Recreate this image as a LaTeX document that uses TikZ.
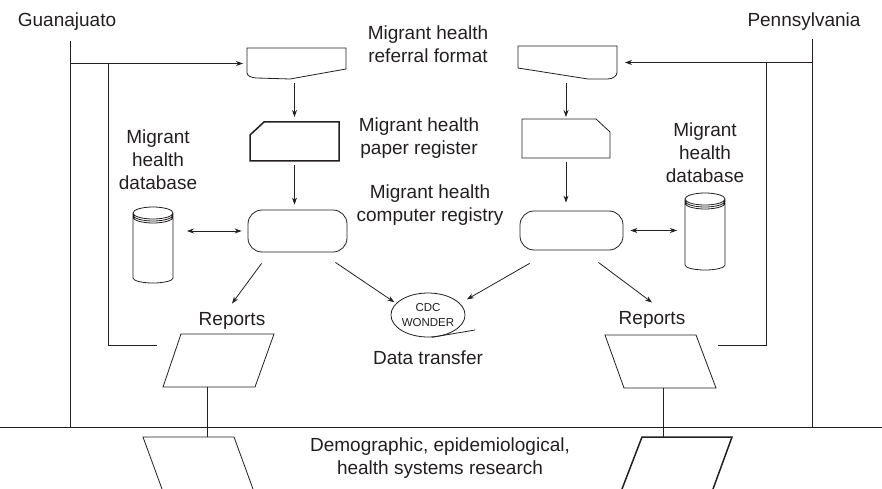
\documentclass[tikz,border=0pt]{standalone}
\usepackage{fontspec}
\setmainfont{Liberation Sans}
\usetikzlibrary{arrows.meta,shapes.geometric}
\definecolor{ink}{RGB}{35,31,32}

\begin{document}
\begin{tikzpicture}[x=1pt, y=-1pt, line width=0.8pt, draw=ink, text=ink,
  >={Stealth[length=7pt,width=5pt]},
  lbl/.style={font=\fontsize{19}{23}\selectfont, align=center, inner sep=0pt},
  tiny/.style={font=\fontsize{11.5}{15}\selectfont, align=center},
  hold/.style={inner sep=0pt, outer sep=0pt},
  comp/.style={draw, rounded corners=14pt, inner sep=0pt},
  thick line/.style={line width=1.5pt}]
\useasboundingbox (0,0) rectangle (882,489);

% place labels
\node[lbl, anchor=base] (gto) at (67,27) {Guanajuato};
\node[lbl, anchor=base] (pa) at (804,27) {Pennsylvania};
\node[lbl] (reftxt) at (428,44.5) {Migrant health\\referral format};
\node[lbl] (papertxt) at (419,138.5) {Migrant health\\paper register};
\node[lbl] (comptxt) at (430,205) {Migrant health\\computer registry};
\node[lbl] (ldbtxt) at (158,160) {Migrant\\health\\database};
\node[lbl] (rdbtxt) at (705,153) {Migrant\\health\\database};
\node[lbl, anchor=base] (lrept) at (232,325) {Reports};
\node[lbl, anchor=base] (rrept) at (652,324) {Reports};
\node[lbl, anchor=base] (datatxt) at (428,364) {Data transfer};
\node[lbl] (restxt) at (440,458.5) {Demographic, epidemiological,\\health systems research};

% flowchart boxes
\node[hold, minimum width=99, minimum height=31] (lref) at (296.5,63.5) {};
\node[hold, minimum width=99, minimum height=33] (rref) at (567.5,62.5) {};
\node[hold, minimum width=89, minimum height=39] (lpaper) at (294.5,141.5) {};
\node[hold, minimum width=88, minimum height=39] (rpaper) at (566,138.5) {};
\node[comp, minimum width=99, minimum height=42] (lcomp) at (297.5,231) {};
\node[comp, minimum width=103, minimum height=39] (rcomp) at (571.5,230.5) {};
\node[hold, minimum width=40, minimum height=75] (ldb) at (153,244.5) {};
\node[hold, minimum width=40, minimum height=77] (rdb) at (705,231.5) {};
\node[draw, ellipse, tiny, inner sep=0pt, minimum width=70, minimum height=44] (cdc) at (428,315) {CDC\\WONDER};
\node[hold, minimum width=111, minimum height=53] (lrep) at (218,360.5) {};
\node[hold, minimum width=111, minimum height=53] (rrep) at (660,361.5) {};
\node[hold, minimum width=110, minimum height=52] (lres) at (198,463) {};
\node[hold, minimum width=110, minimum height=52] (rres) at (677,463) {};

% outlines
\draw[shift={(lref.center)}] (-49.5,-15.5) -- (49.5,-15.5) -- (49.5,5.5) -- (-6.5,15.5)
  -- (-40,14.5) .. controls (-45,14.5) and (-49.5,12) .. (-49.5,9.5) -- cycle;
\draw[shift={(rref.center)}] (-49.5,-16.5) -- (49.5,-16.5) -- (49.5,10)
  .. controls (49.5,13) and (46,16.5) .. (40,16.5) -- (20.5,16.5) -- (-49.5,5.5) -- cycle;
\draw[thick line, shift={(lpaper.center)}] (-44.5,-6.5) -- (-30.5,-19.5) -- (44.5,-19.5)
  -- (44.5,19.5) -- (-44.5,19.5) -- cycle;
\draw[shift={(rpaper.center)}] (-44,-19.5) -- (30,-19.5) -- (44,-6.5) -- (44,19.5)
  -- (-44,19.5) -- cycle;
\draw[shift={(ldb.center)}] (-20,-31.5) -- (-20,33.5)
  arc[start angle=180, end angle=360, x radius=20pt, y radius=5pt] -- (20,-31.5)
  (0,-31.5) ellipse[x radius=20pt, y radius=6pt]
  (-20,-29.5) arc[start angle=180, end angle=360, x radius=20pt, y radius=6pt]
  (-20,-27.5) arc[start angle=180, end angle=360, x radius=20pt, y radius=6pt];
\draw[shift={(rdb.center)}] (-20,-32.5) -- (-20,33.5)
  arc[start angle=180, end angle=360, x radius=20pt, y radius=5pt] -- (20,-32.5)
  (0,-32.5) ellipse[x radius=20pt, y radius=6pt]
  (-20,-30.5) arc[start angle=180, end angle=360, x radius=20pt, y radius=6pt]
  (-20,-28.5) arc[start angle=180, end angle=360, x radius=20pt, y radius=6pt];
\draw[shift={(lrep.center)}] (-37,-26.5) -- (56,-26.5) -- (37,26.5) -- (-55,26.5) -- cycle;
\draw[shift={(rrep.center)}] (-55,-26.5) -- (36,-26.5) -- (56,26.5) -- (-36,26.5) -- cycle;
\draw[shift={(lres.center)}] (-36,26) -- (-55,-26) -- (36,-26) -- (55,26);
\draw[thick line, shift={(rres.center)}] (-55,26) -- (-35,-26) -- (55,-26) -- (36,26);

% rails and feedback lines
\coordinate (gtotop) at (70,41);
\coordinate (patop) at (812,39);
\coordinate (baseL) at (0,427);
\coordinate (baseR) at (882,427);
\coordinate (gtoin) at (108,0);
\coordinate (pain) at (766,0);
\coordinate (gtoback) at (157,345);
\coordinate (paback) at (718,345);
\coordinate (lrepb) at (207,387);
\coordinate (rrepb) at (663,388);
\coordinate (cdctail) at (475,330);

\draw (baseL) -- (baseR);
\draw (gtotop) -- (gtotop |- baseL);
\draw (patop) -- (patop |- baseL);
\draw (gtoin |- lref.west) |- (gtoback);
\draw (pain |- rref.east) |- (paback);
\draw (lrepb) -- (lrepb |- lres.north);
\draw (rrepb) -- (rrepb |- rres.north);
\draw (cdc.-80) -- (cdctail);

\draw[->, shorten >=4pt] (gtotop |- lref.west) -- (lref.west);
\draw[->, shorten >=8pt] (patop |- rref.east) -- (rref.east);
\draw[->, shorten <=4pt, shorten >=5pt] (lpaper.north |- lref.south) -- (lpaper.north);
\draw[->, shorten <=4pt, shorten >=2pt] (rpaper.north |- rref.south) -- (rpaper.north);
\draw[->, shorten <=4pt, shorten >=5pt] (lpaper.south) -- (lpaper.south |- lcomp.north);
\draw[->, shorten <=4pt, shorten >=8pt] (rpaper.south) -- (rpaper.south |- rcomp.north);
\draw[<->, shorten <=14pt, shorten >=6pt] (lcomp.west -| ldb.east) -- (lcomp.west);
\draw[<->, shorten <=7pt, shorten >=8pt] (rcomp.east) -- (rcomp.east -| rdb.west);
\draw[->] ([shift={(14,11)}]lcomp.south west) -- ([yshift=8pt]lrept.north);
\draw[->, shorten >=2pt] ([shift={(-12,10)}]lcomp.south east) -- (cdc.160);
\draw[->, shorten >=8pt] ([shift={(10,13)}]rcomp.south west) -- (cdc.20);
\draw[->] ([shift={(-25,12)}]rcomp.south east) -- ([yshift=8pt]rrept.north);
\end{tikzpicture}
\end{document}
